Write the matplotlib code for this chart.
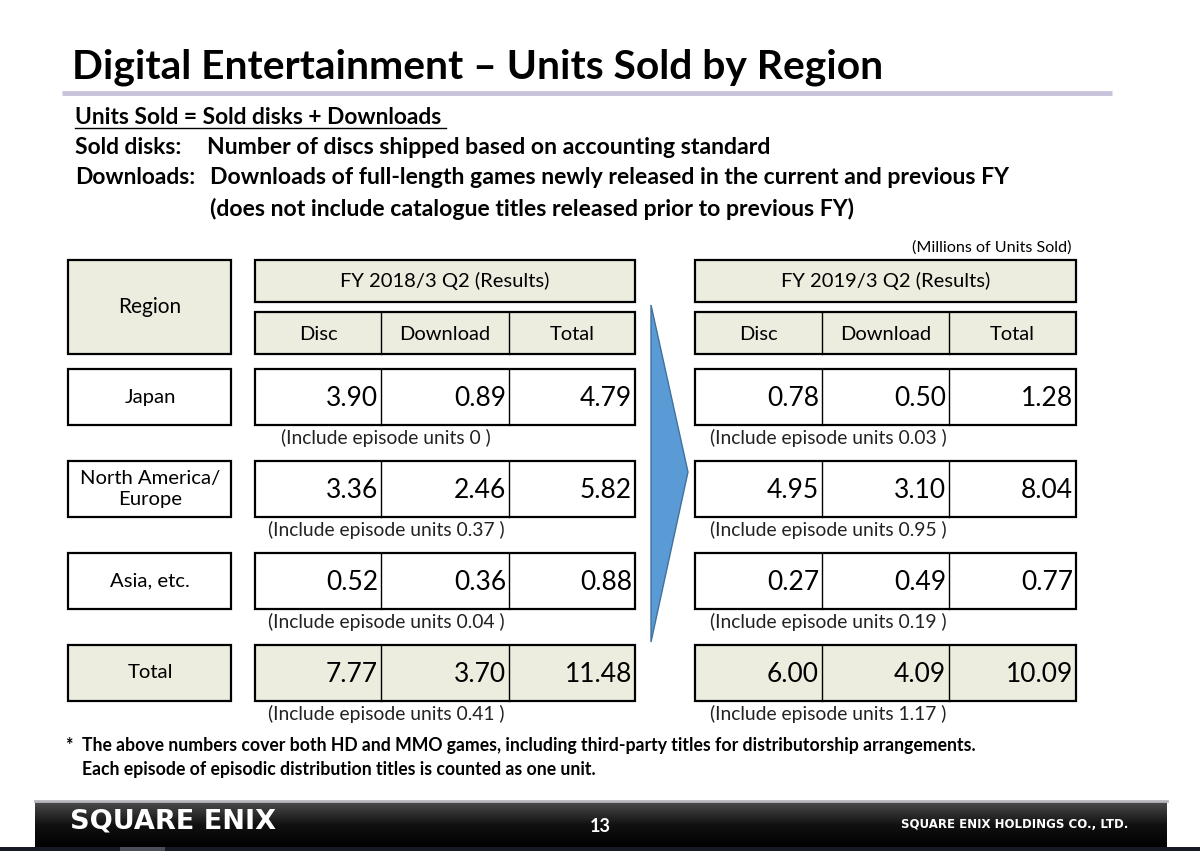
import numpy as np
import matplotlib.pyplot as plt
from matplotlib.patches import Rectangle, Polygon
from matplotlib.colors import LinearSegmentedColormap

plt.rcParams['font.family'] = ['Lato', 'DejaVu Sans']

# table data (millions of units)
regions = ["Japan", "North America/\nEurope", "Asia, etc.", "Total"]
fy18_disc = [3.90, 3.36, 0.52, 7.77]
fy18_download = [0.89, 2.46, 0.36, 3.70]
fy18_total = [4.79, 5.82, 0.88, 11.48]
fy18_episode = ["0", "0.37", "0.04", "0.41"]
fy19_disc = [0.78, 4.95, 0.27, 6.00]
fy19_download = [0.50, 3.10, 0.49, 4.09]
fy19_total = [1.28, 8.04, 0.77, 10.09]
fy19_episode = ["0.03", "0.95", "0.19", "1.17"]
periods = ["FY 2018/3 Q2 (Results)", "FY 2019/3 Q2 (Results)"]
columns = ["Disc", "Download", "Total"]

BEIGE = "#ecedde"

fig = plt.figure(figsize=(12, 8.51), dpi=100)
ax = fig.add_axes([0, 0, 1, 1])
ax.set_xlim(0, 1200)
ax.set_ylim(851, 0)
ax.axis("off")

# title and description
ax.text(72, 67, "Digital Entertainment \u2013 Units Sold by Region", fontsize=29.3,
        fontweight="bold", va="center", ha="left")
ax.plot([62, 1112], [93, 93], color="#c9c2dd", lw=3.5, solid_capstyle="butt")
ax.text(75, 117, "Units Sold = Sold disks + Downloads", fontsize=16.4, fontweight="bold", va="center")
ax.plot([75, 446], [128, 128], color="black", lw=1)
ax.text(75, 148, "Sold disks:", fontsize=16.4, fontweight="bold", va="center")
ax.text(207, 148, "Number of discs shipped based on accounting standard", fontsize=16.6,
        fontweight="bold", va="center")
ax.text(75, 178, "Downloads:", fontsize=16.4, fontweight="bold", va="center")
ax.text(210, 178, "Downloads of full-length games newly released in the current and previous FY",
        fontsize=16.6, fontweight="bold", va="center")
ax.text(210, 209, "(does not include catalogue titles released prior to previous FY)",
        fontsize=16.6, fontweight="bold", va="center")
ax.text(1072, 248, "(Millions of Units Sold)", fontsize=11.6, ha="right", va="center")


def box(x0, y0, x1, y1, fill="white", lw=1.6):
    ax.add_patch(Rectangle((x0, y0), x1 - x0, y1 - y0, facecolor=fill,
                           edgecolor="black", lw=lw))


# region column
box(68, 260, 231, 354, BEIGE)
ax.text(150, 307, "Region", fontsize=15, ha="center", va="center")
row_top = [369, 461, 553, 645]
row_h = 56
for i, r in enumerate(regions):
    fill = BEIGE if r == "Total" else "white"
    box(68, row_top[i], 231, row_top[i] + row_h, fill)
    ax.text(150, row_top[i] + row_h / 2, r, fontsize=14.6, ha="center", va="center",
            linespacing=1.35)

tables = [
    (255, 635, [381, 509], fy18_disc, fy18_download, fy18_total, fy18_episode, 386),
    (695, 1076, [822, 949], fy19_disc, fy19_download, fy19_total, fy19_episode, 828),
]
for k, (x0, x1, divs, disc, dl, tot, epi, epi_x) in enumerate(tables):
    box(x0, 260, x1, 302, BEIGE)
    ax.text((x0 + x1) / 2, 281, periods[k], fontsize=14.5, ha="center", va="center")
    box(x0, 312, x1, 354, BEIGE)
    edges = [x0] + divs + [x1]
    for j, c in enumerate(columns):
        ax.text((edges[j] + edges[j + 1]) / 2, 334, c, fontsize=14.5, ha="center", va="center")
    for d in divs:
        ax.plot([d, d], [312, 354], color="black", lw=1)
    for i in range(len(regions)):
        fill = BEIGE if regions[i] == "Total" else "white"
        y0 = row_top[i]
        box(x0, y0, x1, y0 + row_h, fill)
        for d in divs:
            ax.plot([d, d], [y0, y0 + row_h], color="black", lw=1)
        for j, v in enumerate([disc[i], dl[i], tot[i]]):
            ax.text(edges[j + 1] - 3, y0 + row_h / 2 + 2, f"{v:.2f}", fontsize=19,
                    ha="right", va="center")
        ax.text(epi_x, y0 + row_h + 13, f"(Include episode units {epi[i]} )", fontsize=13.9,
                ha="center", va="center", color="#222222")

# arrow between the tables
ax.add_patch(Polygon([(651, 305), (688, 472), (651, 642)], closed=True,
                     facecolor="#5b9bd5", edgecolor="#41719c", lw=1))

# footnote
ax.text(65, 746, "*", fontsize=12.7, fontweight="bold", va="center")
ax.text(82, 746, "The above numbers cover both HD and MMO games, including third-party titles "
        "for distributorship arrangements.", fontsize=12.7, fontweight="bold", va="center")
ax.text(82, 769, "Each episode of episodic distribution titles is counted as one unit.",
        fontsize=12.7, fontweight="bold", va="center")

# footer band
grad = np.linspace(0, 1, 50).reshape(-1, 1)
ax.imshow(grad, cmap=LinearSegmentedColormap.from_list(
    "band", ["#4a4a4a", "#111111", "#000000"]), extent=(35, 1167, 848, 802),
    aspect="auto", zorder=1)
ax.plot([35, 1167], [801, 801], color="#b8b8c0", lw=2)
ax.add_patch(Rectangle((0, 847), 1200, 4, facecolor="#151a24", edgecolor="none"))
ax.add_patch(Rectangle((120, 847), 45, 4, facecolor="#4a4f57", edgecolor="none"))
ax.text(70, 821, "SQUARE ENIX", fontsize=19.5, fontweight="bold", color="white",
        va="center", family=["DejaVu Sans"])
ax.text(600, 826, "13", fontsize=13, fontweight="bold", color="white", ha="center", va="center")
ax.text(1128, 824, "SQUARE ENIX HOLDINGS CO., LTD.", fontsize=8.5, fontweight="bold",
        color="white", ha="right", va="center", family=["DejaVu Sans"])
ax.set_xlim(0, 1200)
ax.set_ylim(851, 0)

fig.savefig("out.png", dpi=100)
